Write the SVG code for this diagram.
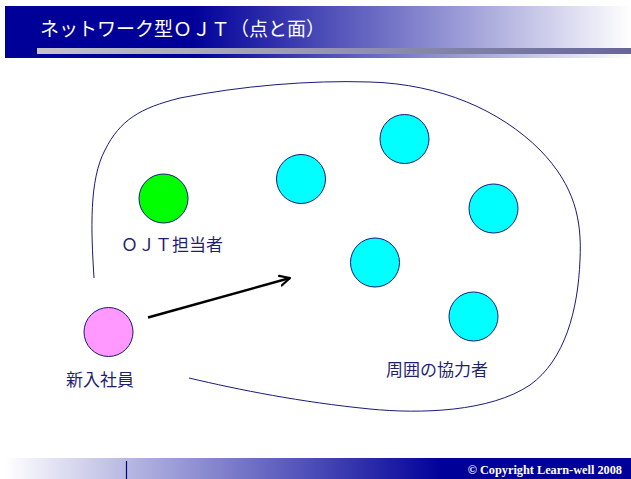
<svg xmlns="http://www.w3.org/2000/svg" width="631" height="479" viewBox="0 0 631 479">
<defs>
<linearGradient id="hdr" x1="0" y1="0" x2="1" y2="0">
<stop offset="0" stop-color="#000099"/>
<stop offset="0.3" stop-color="#000099"/>
<stop offset="1" stop-color="#ffffff"/>
</linearGradient>
<linearGradient id="bar" x1="0" y1="0" x2="1" y2="0">
<stop offset="0" stop-color="#c4c4c8"/>
<stop offset="1" stop-color="#66669a"/>
</linearGradient>
<linearGradient id="ftr" x1="0" y1="0" x2="1" y2="0">
<stop offset="0" stop-color="#ffffff"/>
<stop offset="0.7" stop-color="#000099"/>
<stop offset="1" stop-color="#000099"/>
</linearGradient>
<marker id="arr" markerWidth="14" markerHeight="14" refX="11" refY="6" orient="auto" markerUnits="userSpaceOnUse" viewBox="0 0 14 12">
<path d="M1 1 L11 6 L1 11" fill="none" stroke="#000" stroke-width="2.2" stroke-linecap="round" stroke-linejoin="round"/>
</marker>
<style>
.c{stroke:#1a1a7a;stroke-width:1}
.lbl{font-family:"Noto Sans CJK JP","Noto Sans",sans-serif;font-size:17px;fill:#1f1f70}
</style>
</defs>
<rect width="631" height="479" fill="#ffffff"/>
<g id="header">
<rect x="5" y="6" width="626" height="52" fill="url(#hdr)"/>
<rect x="37" y="48" width="594" height="6" fill="url(#bar)"/>
<text x="40" y="36" font-family="Noto Sans CJK JP, sans-serif" font-size="19" fill="#ffffff">ネットワーク型ＯＪＴ（点と面）</text>
</g>
<g id="footer">
<rect x="5" y="458" width="626" height="21" fill="url(#ftr)"/>
<line x1="126.5" y1="461" x2="126.5" y2="479" stroke="#000080" stroke-width="1.2"/>
<text x="622" y="474" text-anchor="end" font-family="Liberation Serif, serif" font-weight="bold" font-size="12.3" fill="#ffffff">© Copyright Learn-well 2008</text>
</g>
<g id="connectors">
<path id="boundary" d="M94 278 C91 230 89 180 105 150 C120 120 140 108 180 98 C240 86 310 80 370 82 C440 84 500 110 540 150 C575 186 582 220 580 260 C578 310 565 360 530 385 C490 412 420 414 370 409 C300 402 240 390 189 378" fill="none" stroke="#1a1a7a" stroke-width="1"/>
<line x1="148" y1="317.5" x2="290" y2="278" stroke="#000" stroke-width="2.5" marker-end="url(#arr)"/>
</g>
<g id="ojt">
<circle class="c" cx="163.5" cy="198.5" r="24.5" fill="#00ff00"/>
<text class="lbl" x="121" y="251">ＯＪＴ担当者</text>
</g>
<g id="newcomer">
<circle class="c" cx="108.5" cy="332" r="24.5" fill="#ff99ff"/>
<text class="lbl" x="66" y="386">新入社員</text>
</g>
<g id="helper1"><circle class="c" cx="301" cy="179" r="24.5" fill="#00ffff"/></g>
<g id="helper2"><circle class="c" cx="404.5" cy="139" r="24.5" fill="#00ffff"/></g>
<g id="helper3"><circle class="c" cx="493.5" cy="208.5" r="24.5" fill="#00ffff"/></g>
<g id="helper4"><circle class="c" cx="375" cy="262.5" r="24.5" fill="#00ffff"/></g>
<g id="helper5"><circle class="c" cx="473.5" cy="316.5" r="24.5" fill="#00ffff"/></g>
<g id="helpers-label"><text class="lbl" x="386" y="376">周囲の協力者</text></g>
</svg>
